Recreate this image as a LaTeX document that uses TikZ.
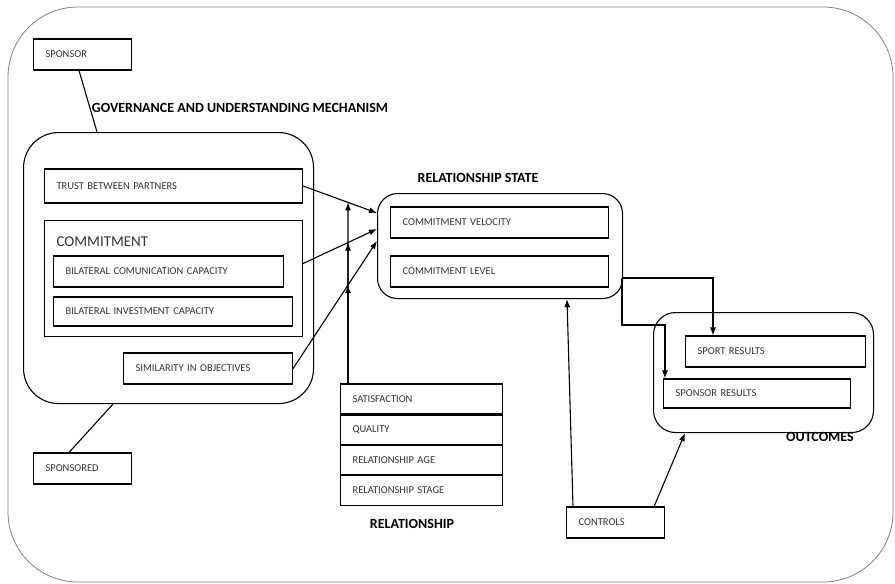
\documentclass[tikz,border=0pt]{standalone}
\usepackage{fontspec}
\setmainfont{Carlito}
\usetikzlibrary{positioning,calc,arrows.meta}

\begin{document}
\begin{tikzpicture}[x=1pt,y=-1pt,>={Latex[length=8pt,width=6pt]},line width=1.1pt,
    item/.style={draw, anchor=west, minimum height=31pt, inner xsep=12pt, text width=#1pt,
                 align=left, font=\fontsize{10.5}{12}\selectfont, text=black!80},
    frame/.style={draw, anchor=north west, inner sep=0pt},
    title/.style={font=\bfseries\fontsize{14}{16}\selectfont}]
                      \useasboundingbox (0,0) rectangle (895,584);
                      \draw[black!50, line width=0.8pt, rounded corners=70pt] (8,7) rectangle (893,582);
                      \node[item=74] (sponsor) at (33,54.5) {SPONSOR};
                      \node[item=74] (sponsored) at (33,468.5) {SPONSORED};
                      \node[title, anchor=west] (govlbl) at (88,108) {GOVERNANCE AND UNDERSTANDING MECHANISM};
                      \node[frame, rounded corners=35pt, minimum width=290pt, minimum height=271pt] (gov) at (23,132) {};
                      \node[item=234, minimum height=34pt] (trust) at (44,186) {TRUST BETWEEN PARTNERS};
                      \node[frame, minimum width=258pt, minimum height=116pt] (commit) at (44,220) {};
                      \node[anchor=base west, inner sep=0pt, font=\fontsize{15}{18}\selectfont, text=black!80] (commitlbl) at (56,246) {COMMITMENT};
                      \node[item=206] (comm) at (53,271.5) {BILATERAL COMUNICATION CAPACITY};
                      \node[item=215, minimum height=29pt] (invest) at (53,311.5) {BILATERAL INVESTMENT CAPACITY};
                      \node[item=145] (simil) at (123,368.5) {SIMILARITY IN OBJECTIVES};
                      \node[title] (rslbl) at (478,178) {RELATIONSHIP STATE};
                      \node[frame, rounded corners=20pt, minimum width=245pt, minimum height=105pt] (rs) at (377,193) {};
                      \node[item=194] (velocity) at (390,222.5) {COMMITMENT VELOCITY};
                      \node[item=194] (level) at (390,271.5) {COMMITMENT LEVEL};
                      \node[item=138, minimum height=30pt] (sat) at (340,399) {SATISFACTION};
                      \node[item=138, minimum height=29pt, below=0pt of sat] (quality) {QUALITY};
                      \node[item=138, minimum height=29pt, below=0pt of quality] (age) {RELATIONSHIP AGE};
                      \node[item=138, minimum height=30pt, below=0pt of age] (stage) {RELATIONSHIP STAGE};
                      \node[title] (rellbl) at (412,524) {RELATIONSHIP};
                      \node[frame, rounded corners=22pt, minimum width=220pt, minimum height=120pt] (outc) at (653,312) {};
                      \node[item=156] (sport) at (685,351.5) {SPORT RESULTS};
                      \node[item=163, minimum height=29pt] (sponres) at (663,393.5) {SPONSOR RESULTS};
                      \node[title] (outlbl) at (820,437) {OUTCOMES};
                      \node[item=74] (controls) at (566,522.5) {CONTROLS};
                      \coordinate (in1) at (377,213);
                      \coordinate (in2) at (377,229);
                      \coordinate (in3) at (377,241);
                      \coordinate (cout) at (302,264);
                      \coordinate (vbase) at ($(sat.north west)+(8,0)$);
                      \coordinate (vtop) at (348,150);
                      \coordinate (split) at (622,278);
                      \draw ($(sponsor.south west)+(46,0)$) -- ($(gov.north west)+(74,0)$);
                      \draw ($(sponsored.north west)+(36,0)$) -- ($(gov.south west)+(90,0)$);
                      \path[->]
                      (trust.east) edge (in1)
                      (cout) edge (in2)
                      (simil.east) edge (in3);
                      \draw[->] (vbase) -- (intersection of trust.east--in1 and vbase--vtop);
                      \draw[->] (vbase) -- (intersection of cout--in2 and vbase--vtop);
                      \draw[->] (vbase) -- (intersection of simil.east--in3 and vbase--vtop);
                      \draw[->] (split) -| ($(sport.north west)+(28,0)$);
                      \draw[->] (split) -- ++(0,47) -| ($(sponres.north west)+(2,0)$);
                      \path[->]
                      ($(controls.north west)+(7,0)$) edge ($(rs.south west)+(190,0)$)
                      ($(controls.north east)+(-11,0)$) edge ($(outc.south west)+(32,0)$);
                  \end{tikzpicture}
\end{document}
